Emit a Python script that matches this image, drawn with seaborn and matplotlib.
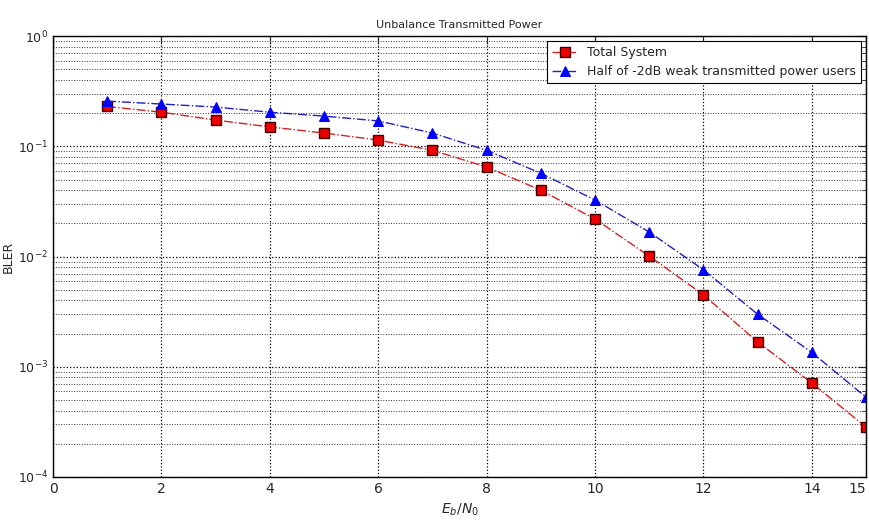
import numpy as np
import pandas as pd
import matplotlib
matplotlib.use("Agg")
import matplotlib.pyplot as plt
import seaborn as sns
from matplotlib.ticker import LogLocator, NullFormatter

ebno = [1, 2, 3, 4, 5, 6, 7, 8, 9, 10, 11, 12, 13, 14, 15]
total_system = [0.23, 0.204, 0.173, 0.15, 0.132, 0.114, 0.092, 0.065, 0.040,
                0.0219, 0.0101, 0.0045, 0.00168, 0.000713, 0.000284]
half_weak = [0.257, 0.242, 0.227, 0.204, 0.188, 0.17, 0.132, 0.092, 0.057,
             0.0326, 0.0167, 0.0076, 0.0030, 0.00135, 0.00053]
series_names = ["Total System", "Half of -2dB weak transmitted power users"]
x_ticks = [0, 2, 4, 6, 8, 10, 12, 14, 15]

sns.set_style("white")
plt.rcParams['font.family'] = ['DejaVu Sans']

fig = plt.figure(figsize=(8.69, 5.31), dpi=100)
ax = fig.add_axes([0.061, 0.1017, 0.9355, 0.8303])

df1 = pd.DataFrame({"x": ebno, "y": total_system})
df2 = pd.DataFrame({"x": ebno, "y": half_weak})
sns.lineplot(data=df1, x="x", y="y", ax=ax, color="#d62020", linestyle="-.",
             linewidth=1.0, marker="s", markersize=7, markerfacecolor="#ee0000",
             markeredgecolor="#400000", markeredgewidth=1.0, label=series_names[0])
sns.lineplot(data=df2, x="x", y="y", ax=ax, color="#2020c0", linestyle="-.",
             linewidth=1.0, marker="^", markersize=7, markerfacecolor="#0000ff",
             markeredgecolor="#0000ff", label=series_names[1])

ax.set_yscale("log")
ax.set_xlim(0, 15)
ax.set_ylim(1e-4, 1)
ax.set_xticks(x_ticks)
ax.set_xticklabels([str(t) for t in x_ticks])
ax.get_xticklabels()[-1].set_horizontalalignment("right")
ax.yaxis.set_major_locator(LogLocator(base=10, numticks=10))
ax.yaxis.set_minor_locator(LogLocator(base=10, subs=np.arange(2, 10), numticks=100))
ax.yaxis.set_minor_formatter(NullFormatter())

ax.grid(True, which="major", linestyle=":", color="black", linewidth=0.9)
ax.grid(True, which="minor", axis="y", linestyle=":", color="#333333", linewidth=0.7)
ax.tick_params(which="both", direction="in", top=True, right=True)
ax.tick_params(axis="x", labelsize=10)
ax.tick_params(axis="y", labelsize=9)
ax.tick_params(which="major", length=6)
ax.tick_params(which="minor", length=3)
for s in ax.spines.values():
    s.set_color("black")
    s.set_linewidth(1.0)

ax.set_title("Unbalance Transmitted Power", fontsize=8)
ax.set_xlabel("$E_b/N_0$", fontsize=10)
ax.set_ylabel("BLER", fontsize=9)
ax.yaxis.set_label_coords(-0.047, 0.5)

leg = ax.legend(loc="upper right", fontsize=9, frameon=True, fancybox=False,
                edgecolor="black", framealpha=1.0, handlelength=2.0, borderaxespad=0.4)
leg.get_frame().set_linewidth(0.8)

fig.savefig("out.png", dpi=100)
